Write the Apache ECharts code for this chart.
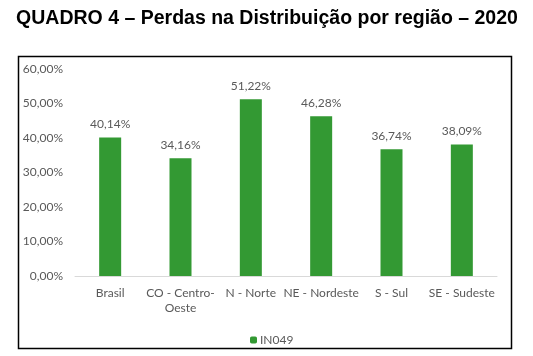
<!DOCTYPE html>
<html><head><meta charset="utf-8">
<script src="https://cdn.jsdelivr.net/npm/echarts@6/dist/echarts.min.js"></script>
<style>html,body{margin:0;padding:0;background:#fff}#c{width:533px;height:356px}</style>
</head><body><div id="c"></div>
<script>
const titleText = 'QUADRO 4 – Perdas na Distribuição por região – 2020';
const categories = ['Brasil', 'CO - Centro-\nOeste', 'N - Norte', 'NE - Nordeste', 'S - Sul', 'SE - Sudeste'];
const seriesName = 'IN049';
const values = [40.14, 34.16, 51.22, 46.28, 36.74, 38.09];
const yTicks = [0, 10, 20, 30, 40, 50, 60];

const fmt = v => v.toFixed(2).replace('.', ',') + '%';
const chart = echarts.init(document.getElementById('c'));
chart.setOption({
  animation: false,
  title: {
    text: titleText, left: 262, top: 4, textAlign: 'center',
    textStyle: { fontFamily: 'Liberation Sans', fontWeight: 'bold', fontSize: 19.5, color: '#000' }
  },
  graphic: [{
    type: 'rect', left: 16, top: 54, shape: { width: 493, height: 292 },
    style: { fill: 'none', stroke: '#000', lineWidth: 1.5 }, z: 0
  }],
  legend: {
    data: [seriesName], left: 245, top: 329, itemWidth: 7, itemHeight: 7, itemGap: 3,
    textStyle: { fontFamily: 'Lato', fontSize: 12, color: '#595959', padding: [0, 0, 0, -2] }
  },
  grid: { left: 75, right: 36, top: 69, bottom: 80 },
  xAxis: {
    type: 'category', data: categories,
    axisLine: { lineStyle: { color: '#d9d9d9' } }, axisTick: { show: false },
    axisLabel: { fontFamily: 'Lato', fontSize: 12, color: '#595959', margin: 10, lineHeight: 15, interval: 0 }
  },
  yAxis: {
    type: 'value', min: yTicks[0], max: yTicks[yTicks.length - 1], interval: 10,
    splitLine: { show: false }, axisLine: { show: false }, axisTick: { show: false },
    axisLabel: { fontFamily: 'Lato', fontSize: 12, color: '#595959', margin: 12, formatter: fmt }
  },
  series: [{
    name: seriesName, type: 'bar', data: values, barWidth: 22,
    itemStyle: { color: '#339933' },
    label: { show: true, position: 'top', distance: 7, fontFamily: 'Lato', fontSize: 12, color: '#595959', formatter: p => fmt(p.value) }
  }]
});
</script></body></html>
